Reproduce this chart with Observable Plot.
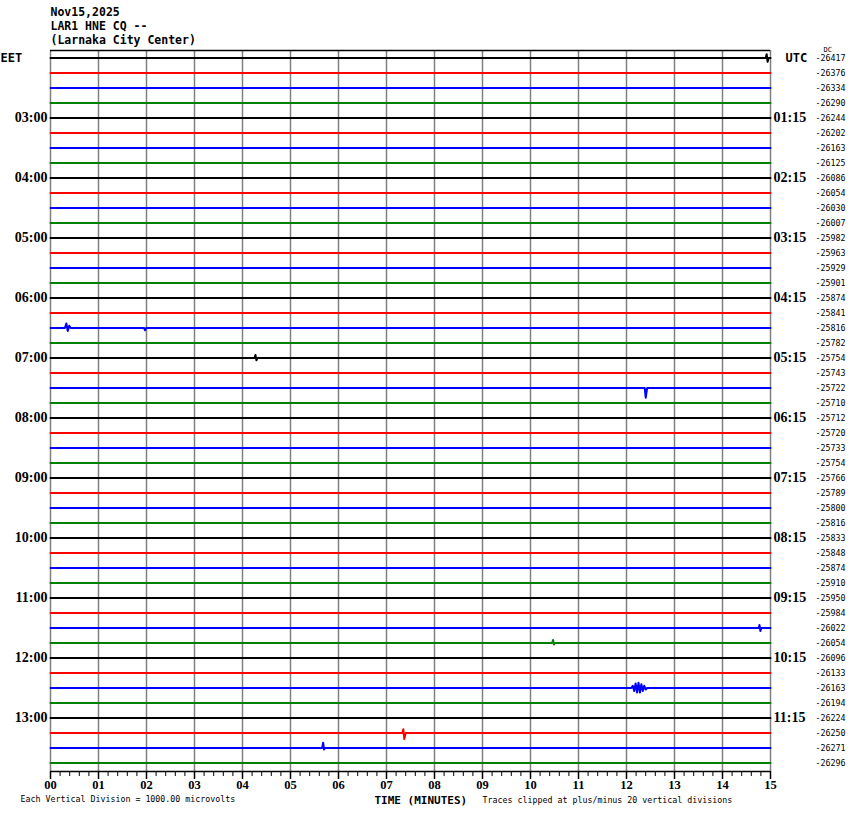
<!DOCTYPE html>
<html><head><meta charset="utf-8">
<script src="https://cdn.jsdelivr.net/npm/d3@7"></script>
<script src="https://cdn.jsdelivr.net/npm/@observablehq/plot@0.6"></script>
<style>body{margin:0;background:#fff}</style>
</head><body><div id="chart"></div>
<script>
const titleLines = ["Nov15,2025", "LAR1 HNE CQ --", "(Larnaka City Center)"];
const traceColors = ["black", "red", "blue", "green"];
const minuteTicks = d3.range(0, 16);
const eetLabels = ["03:00","04:00","05:00","06:00","07:00","08:00","09:00","10:00","11:00","12:00","13:00"];
const utcLabels = ["01:15","02:15","03:15","04:15","05:15","06:15","07:15","08:15","09:15","10:15","11:15"];
const dcOffsets = [-26417,-26376,-26334,-26290,-26244,-26202,-26163,-26125,-26086,-26054,-26030,-26007,
  -25982,-25963,-25929,-25901,-25874,-25841,-25816,-25782,-25754,-25743,-25722,-25710,
  -25712,-25720,-25733,-25754,-25766,-25789,-25800,-25816,-25833,-25848,-25874,-25910,
  -25950,-25984,-26022,-26054,-26096,-26133,-26163,-26194,-26224,-26250,-26271,-26296];
// events: row index, [minute, amplitude in divisions (+ up)]
const events = [
  {row: 0, pts: [[14.90,0],[14.92,0.25],[14.94,-0.25],[14.96,0]]},
  {row: 18, pts: [[0.30,0],[0.33,0.3],[0.36,-0.2],[0.39,0.15],[0.42,0]]},
  {row: 18, pts: [[1.95,0],[1.97,-0.15],[1.99,0]]},
  {row: 20, pts: [[4.25,0],[4.27,0.2],[4.29,-0.15],[4.31,0]]},
  {row: 22, pts: [[12.38,0],[12.40,-0.65],[12.43,0]]},
  {row: 38, pts: [[14.75,0],[14.77,0.2],[14.79,-0.2],[14.81,0]]},
  {row: 39, pts: [[10.45,0],[10.47,0.2],[10.49,-0.1],[10.51,0]]},
  {row: 42, pts: [[12.10,0],[12.13,0.15],[12.16,-0.2],[12.19,0.3],[12.22,-0.3],[12.25,0.35],[12.28,-0.3],[12.31,0.25],[12.34,-0.2],[12.37,0.15],[12.40,-0.1],[12.43,0]]},
  {row: 45, pts: [[7.33,0],[7.35,0.25],[7.37,-0.4],[7.40,0]]},
  {row: 46, pts: [[5.66,0],[5.68,0.35],[5.70,-0.1],[5.72,0]]}
];

const nRows = dcOffsets.length;
const yTop = -0.5;
const yBottom = 713.5 / 15; // axis line position in row units

const traceData = [];
for (let r = 0; r < nRows; r++) {
  const pts = [[0, 0]];
  events.filter(e => e.row === r).forEach(e => e.pts.forEach(p => pts.push(p)));
  pts.push([15, 0]);
  pts.sort((a, b) => a[0] - b[0]);
  pts.forEach(([m, a]) => traceData.push({row: r, minute: m, amp: a, color: traceColors[r % 4]}));
}
const minorTicks = d3.range(0, 76).map(i => i / 5);
const hourRows = eetLabels.map((t, i) => ({row: (i + 1) * 4, eet: t, utc: utcLabels[i]}));

const serifBold = {fontFamily: "Liberation Serif", fontWeight: "bold", fontSize: 14};
const mono = "DejaVu Sans Mono";

const chart = Plot.plot({
  width: 850, height: 814,
  marginLeft: 50, marginRight: 80, marginTop: 50, marginBottom: 43,
  x: {domain: [0, 15], axis: null},
  y: {domain: [yTop, yBottom], reverse: true, axis: null},
  style: {background: "#fff", fontFamily: mono},
  marks: [
    Plot.ruleX(minuteTicks, {x: d => d, y1: yTop, y2: yBottom, stroke: "#808080", strokeWidth: 1.5}),
    Plot.ruleY([yTop], {x1: 0, x2: 15, stroke: "black", strokeWidth: 1.5}),
    Plot.line(traceData, {x: "minute", y: d => d.row - d.amp, z: "row", stroke: "color", strokeWidth: 2, curve: "linear"}),
    Plot.ruleY([yBottom], {x1: 0, x2: 15, stroke: "black", strokeWidth: 1.5}),
    Plot.ruleX(minorTicks, {x: d => d, y1: yBottom, y2: yBottom + 5 / 15, stroke: "black", strokeWidth: 1}),
    Plot.ruleX(minuteTicks, {x: d => d, y1: yBottom, y2: yBottom + 8 / 15, stroke: "black", strokeWidth: 1.5}),
    Plot.text(minuteTicks, {x: d => d, y: yBottom, dy: 13.5, text: d => d3.format("02")(d), fill: "black", ...serifBold, fontSize: 12.5}),
    Plot.text(hourRows, {x: 0, y: "row", dx: -3, textAnchor: "end", text: "eet", fill: "black", ...serifBold}),
    Plot.text(hourRows, {x: 15, y: "row", dx: 3, textAnchor: "start", text: "utc", fill: "black", ...serifBold}),
    Plot.text(["EET"], {x: 0, y: 0, dx: -50, textAnchor: "start", fill: "black", fontFamily: mono, fontWeight: "bold", fontSize: 12}),
    Plot.text(["UTC"], {x: 15, y: 0, dx: 15, textAnchor: "start", fill: "black", fontFamily: mono, fontWeight: "bold", fontSize: 12}),
    Plot.text(dcOffsets, {x: 15, y: (d, i) => i, dx: 45, dy: 0.5, textAnchor: "start", text: d => String(d), fill: "black", fontFamily: mono, fontSize: 8.3}),
    Plot.text(["DC"], {x: 15, y: yTop, dx: 53, dy: -1, textAnchor: "start", fill: "black", fontFamily: mono, fontSize: 7}),
    Plot.text([titleLines.join("\n")], {frameAnchor: "top-left", dy: -45, lineAnchor: "top", textAnchor: "start", lineHeight: 1.25, fill: "black", fontFamily: mono, fontWeight: "bold", fontSize: 11.5}),
    Plot.text(["TIME (MINUTES)"], {frameAnchor: "bottom-left", dx: 324, dy: 32, textAnchor: "start", fill: "black", fontFamily: mono, fontWeight: "bold", fontSize: 11}),
    Plot.text(["Traces clipped at plus/minus 20 vertical divisions"], {frameAnchor: "bottom-left", dx: 432, dy: 31, textAnchor: "start", fill: "black", fontFamily: mono, fontSize: 8.3}),
    Plot.text(["Each Vertical Division = 1000.00 microvolts"], {frameAnchor: "bottom-left", dx: -30, dy: 30, textAnchor: "start", fill: "black", fontFamily: mono, fontSize: 8.3})
  ]
});
document.getElementById("chart").appendChild(chart);
</script>
</body></html>
